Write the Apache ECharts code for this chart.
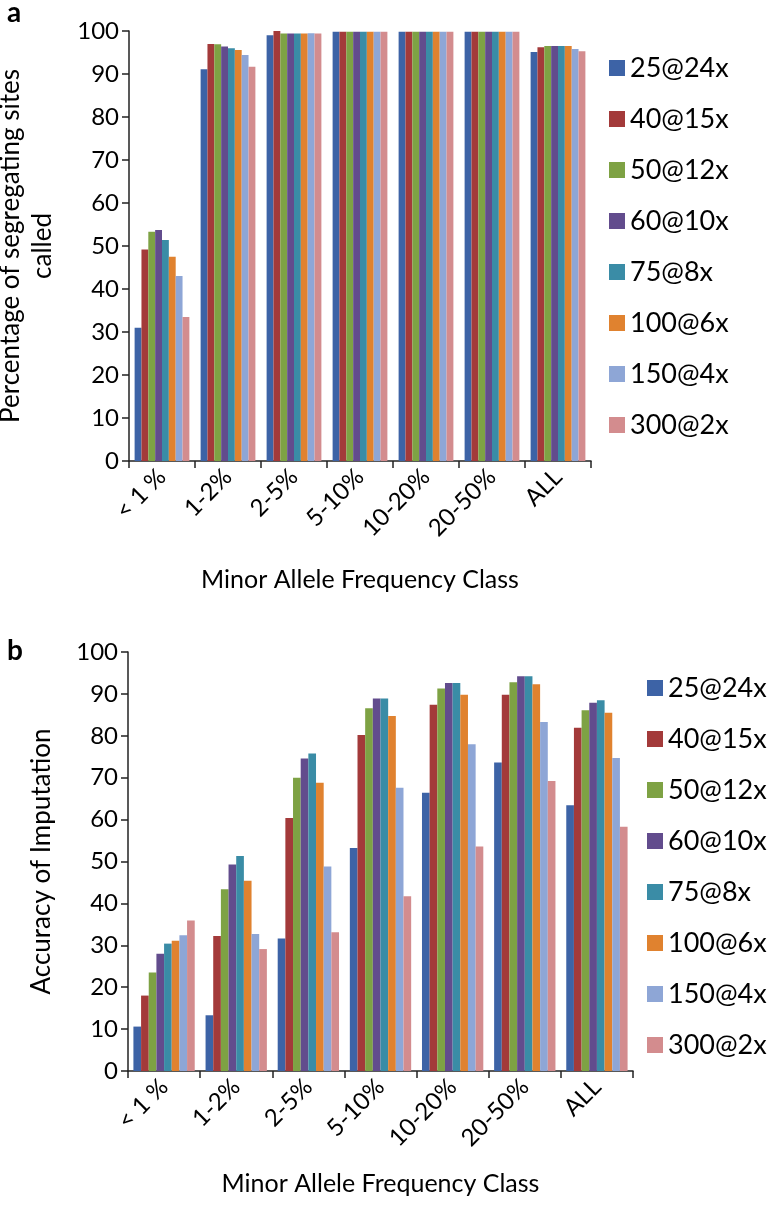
<!DOCTYPE html>
<html>
<head>
<meta charset="utf-8">
<script src="https://cdn.jsdelivr.net/npm/echarts@6/dist/echarts.min.js"></script>
<style>html,body{margin:0;padding:0;background:#fff;}#c{width:779px;height:1205px;}</style>
</head>
<body>
<div id="c"></div>
<script>
// ---- data ----
const categories = ['< 1 %', '1-2%', '2-5%', '5-10%', '10-20%', '20-50%', 'ALL'];
const seriesNames = ['25@24x', '40@15x', '50@12x', '60@10x', '75@8x', '100@6x', '150@4x', '300@2x'];
const yTicks = [0, 100, 10]; // min, max, interval

// panel a: percentage of segregating sites called
const a_25at24x  = [31.0, 91.1, 99.0, 99.8, 99.8, 99.8, 95.1];
const a_40at15x  = [49.2, 97.0, 100.0, 99.8, 99.8, 99.8, 96.2];
const a_50at12x  = [53.3, 96.9, 99.4, 99.8, 99.8, 99.8, 96.5];
const a_60at10x  = [53.7, 96.4, 99.4, 99.8, 99.8, 99.8, 96.5];
const a_75at8x   = [51.4, 96.0, 99.4, 99.8, 99.8, 99.8, 96.5];
const a_100at6x  = [47.5, 95.6, 99.4, 99.8, 99.8, 99.8, 96.5];
const a_150at4x  = [43.0, 94.4, 99.5, 99.8, 99.8, 99.8, 95.8];
const a_300at2x  = [33.5, 91.7, 99.4, 99.8, 99.8, 99.8, 95.3];

// panel b: accuracy of imputation
const b_25at24x  = [10.6, 13.3, 31.6, 53.2, 66.4, 73.6, 63.4];
const b_40at15x  = [18.0, 32.2, 60.4, 80.2, 87.4, 89.8, 81.9];
const b_50at12x  = [23.5, 43.4, 70.0, 86.6, 91.3, 92.8, 86.1];
const b_60at10x  = [28.0, 49.3, 74.6, 88.9, 92.6, 94.2, 87.9];
const b_75at8x   = [30.4, 51.3, 75.8, 88.9, 92.6, 94.2, 88.5];
const b_100at6x  = [31.1, 45.4, 68.8, 84.7, 89.8, 92.3, 85.5];
const b_150at4x  = [32.4, 32.7, 48.8, 67.6, 78.0, 83.3, 74.7];
const b_300at2x  = [35.9, 29.1, 33.1, 41.7, 53.6, 69.2, 58.3];

const panelA = [a_25at24x, a_40at15x, a_50at12x, a_60at10x, a_75at8x, a_100at6x, a_150at4x, a_300at2x];
const panelB = [b_25at24x, b_40at15x, b_50at12x, b_60at10x, b_75at8x, b_100at6x, b_150at4x, b_300at2x];

// ---- style ----
const colors = ['#3D63A6', '#A33A3A', '#7EA244', '#624C8D', '#3A8CA6', '#E0822F', '#8EA6D6', '#D38C8E'];
const FONT = 'Lato, "Open Sans", sans-serif';
const axisColor = '#222';

function yAxis(gridIndex, name, nameGap) {
  return {
    type: 'value', gridIndex, min: yTicks[0], max: yTicks[1], interval: yTicks[2],
    name, nameLocation: 'middle', nameGap,
    nameTextStyle: { fontFamily: FONT, fontSize: 26, color: '#000', lineHeight: 32 },
    axisLine: { show: true, lineStyle: { color: axisColor, width: 1.5 } },
    axisTick: { show: true, length: 7, lineStyle: { color: axisColor, width: 1.5 } },
    splitLine: { show: false },
    axisLabel: { fontFamily: FONT, fontSize: 24, color: '#000', margin: 10 }
  };
}
function xAxis(gridIndex, nameGap) {
  return {
    type: 'category', gridIndex, data: categories,
    name: 'Minor Allele Frequency Class', nameLocation: 'middle', nameGap,
    nameTextStyle: { fontFamily: FONT, fontSize: 25, color: '#000' },
    axisLine: { show: true, lineStyle: { color: axisColor, width: 1.5 } },
    axisTick: { show: true, length: 7, alignWithLabel: false, lineStyle: { color: axisColor, width: 1.5 } },
    axisLabel: { fontFamily: FONT, fontSize: 24, color: '#000', rotate: 45, margin: 12, interval: 0 }
  };
}
function legend(top, left) {
  return {
    orient: 'vertical', top, left, data: seriesNames,
    itemWidth: 16, itemHeight: 16, itemGap: 21, icon: 'rect',
    selectedMode: false,
    textStyle: { fontFamily: FONT, fontSize: 27, color: '#000', lineHeight: 30, padding: [0, 0, 0, 0] }
  };
}

const series = [];
seriesNames.forEach((n, i) => {
  series.push({ name: n, type: 'bar', xAxisIndex: 0, yAxisIndex: 0, data: panelA[i],
    itemStyle: { color: colors[i] }, barGap: '0%', barCategoryGap: '17%', animation: false });
});
seriesNames.forEach((n, i) => {
  series.push({ name: n, type: 'bar', xAxisIndex: 1, yAxisIndex: 1, data: panelB[i],
    itemStyle: { color: colors[i] }, barGap: '0%', barCategoryGap: '15%', animation: false });
});

const chart = echarts.init(document.getElementById('c'), null, { renderer: 'canvas' });
chart.setOption({
  backgroundColor: '#fff',
  animation: false,
  color: colors,
  title: [
    { text: 'a', left: 2, top: -6, textStyle: { fontFamily: FONT, fontSize: 28, fontWeight: 'bold', color: '#000' } },
    { text: 'b', left: 2, top: 632, textStyle: { fontFamily: FONT, fontSize: 28, fontWeight: 'bold', color: '#000' } }
  ],
  legend: [legend(48, 604), legend(668, 642)],
  grid: [
    { left: 129, top: 31, width: 462, height: 430, containLabel: false, outerBoundsMode: 'none' },
    { left: 128, top: 652, width: 505, height: 419, containLabel: false, outerBoundsMode: 'none' }
  ],
  xAxis: [xAxis(0, 106), xAxis(1, 100)],
  yAxis: [yAxis(0, 'Percentage of segregating sites\ncalled', 70), yAxis(1, 'Accuracy of Imputation', 70)],
  series
});
</script>
</body>
</html>
